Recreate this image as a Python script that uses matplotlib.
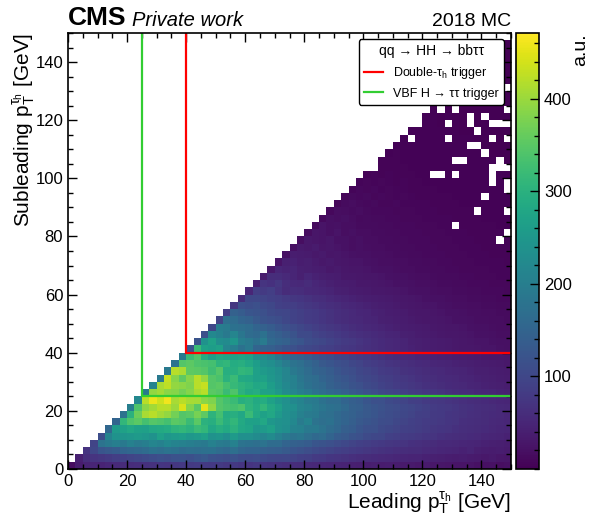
import numpy as np
import matplotlib
matplotlib.use("Agg")
import matplotlib.pyplot as plt
from matplotlib.ticker import MultipleLocator

plt.rcParams["font.family"] = ["Liberation Sans", "DejaVu Sans"]
plt.rcParams["mathtext.fontset"] = "custom"
plt.rcParams["mathtext.rm"] = "Liberation Sans"
plt.rcParams["mathtext.it"] = "Liberation Sans:italic"
plt.rcParams["mathtext.bf"] = "Liberation Sans:bold"

n_bins = 60
pt_max = 150
N = np.nan

# Bin contents by subleading pT row, each row starts on the diagonal bin
rows = [
    [15,35,45,48,45,50,55,58,60,62, 65,68,72,70,75,78,80,82,80,78, 80,75,78,72,70,75,70,68,66,62, 60,58,55,52,50,48,46,45,42,40, 38,40,36,38,35,32,33,30,32,28, 28,26,25,24,25,22,20,22,18,20],
    [42,62,70,75,80,85,90,95,100, 105,110,115,112,118,120,115,125,130,118, 115,112,118,110,108,112,105,100,98,100, 95,90,88,80,78,72,70,68,64,60, 58,56,54,52,50,48,46,46,44,42, 40,38,36,38,34,32,30,32,28,26],
    [70,100,125,130,135,150,155,160, 165,178,170,180,175,165,170,168,172,175, 165,160,170,155,150,150,145,140,138,132, 125,118,112,105,100,95,90,85,82,78, 75,70,68,66,62,60,58,58,54,52, 50,48,46,44,46,40,38,36,38,34],
    [95,180,190,200,190,205,195, 200,215,205,220,210,205,200,195,190,205, 195,190,205,180,175,170,180,165,165,150, 145,140,135,125,120,115,108,102,95,90, 86,82,78,75,72,70,66,64,60,58, 55,54,52,50,48,46,44,42,40,38],
    [110,210,240,245,250,255, 250,240,265,250,255,260,250,255,265,240, 245,230,255,235,235,225,215,225,205,190, 180,185,170,160,165,150,135,130,120,115, 105,100,98,90,85,82,80,76,72,70, 66,62,60,58,56,54,50,48,46,44],
    [155,255,270,280,270, 265,280,285,290,305,310,300,320,310,280, 295,285,300,280,275,250,255,265,240,230, 210,205,190,190,180,165,155,140,135,125, 115,115,105,100,95,90,88,84,80,75, 72,70,66,62,60,58,56,52,50,48],
    [150,310,340,350, 330,345,340,330,350,345,320,350,300,295, 320,295,310,285,270,265,280,250,240,235, 220,195,210,180,170,175,160,150,140,130, 125,118,110,108,100,95,90,86,82,80, 76,72,70,64,62,60,58,55,52,50],
    [180,300,365, 410,420,405,395,370,345,350,375,355,305, 330,290,295,280,320,285,270,280,255,235, 225,205,195,190,175,170,160,150,145,135, 130,125,115,110,105,100,95,88,85,80, 78,72,70,68,64,62,58,56,54,50],
    [200,340, 390,405,420,420,400,445,385,350,452,395, 345,335,330,340,305,290,310,285,265,240, 235,215,205,195,185,175,170,160,145,140, 130,125,118,112,108,102,98,92,88,82, 78,76,72,68,66,62,60,58,54,52],
    [220, 420,455,435,460,410,420,410,408,390,380, 345,330,320,295,300,285,290,270,250,235, 220,210,195,190,175,165,165,150,140,135, 125,115,115,105,100,95,88,85,80,76, 74,70,68,64,60,58,56,52,50,48],
    [190,395,405,390,385,370,385,410,420,350, 345,320,340,300,285,290,270,265,250,225, 215,200,190,175,165,155,150,140,130,125, 115,108,100,95,92,86,80,76,72,70, 68,62,58,56,54,50,48,46,44,42],
    [210,410,425,395,390,380,420,430,345, 350,330,315,305,295,280,285,260,240,220, 205,190,175,165,160,145,135,130,120,115, 105,100,92,88,82,78,74,70,66,64, 60,56,54,52,48,46,44,42,40,38],
    [190,430,385,355,385,420,395,345, 335,300,320,285,280,265,270,250,235,215, 205,185,170,165,150,140,130,125,115,105, 100,95,88,84,78,74,70,66,62,60, 56,54,52,48,46,44,42,40,38,36],
    [190,420,412,355,350,345,325, 345,295,295,310,305,265,255,245,230,215, 190,180,165,150,145,135,125,115,110,100, 95,90,82,78,74,68,66,62,58,56, 54,50,48,46,44,40,40,38,36,34],
    [180,345,352,340,335,330, 305,310,290,295,280,260,240,230,215,195, 180,170,155,145,130,125,115,110,100,95, 85,82,76,70,68,64,60,56,54,50, 48,46,44,42,40,38,36,34,32,30],
    [190,320,342,290,262, 280,275,270,275,265,230,225,210,185,165, 150,145,135,125,115,110,100,95,88,82, 78,72,68,62,58,54,52,48,46,44, 42,40,38,36,34,32,30,28,28,26],
    [125,320,270,260, 270,215,200,175,190,150,145,140,130,120, 115,105,100,95,90,85,80,75,72,68, 64,60,56,52,50,46,44,40,38,36, 34,32,30,28,28,26,24,24,22,20],
    [120,240,270, 230,225,245,200,190,175,195,160,150,145, 130,125,110,105,100,92,85,80,76,70, 66,60,56,52,50,46,42,40,38,36, 34,32,30,28,26,24,24,22,20,20],
    [115,220, 205,190,215,185,165,160,175,150,140,130, 120,105,105,95,90,84,78,72,68,64, 60,56,52,48,46,42,40,36,34,32, 30,28,28,26,24,22,22,20,18,18],
    [100, 200,195,175,170,165,150,145,135,125,115, 108,100,92,86,80,74,70,66,60,56, 52,50,46,44,40,38,36,34,32,30, 28,26,26,24,22,20,20,18,16,16],
    [95,170,165,150,145,130,120,115,110,100, 92,88,82,78,72,68,62,58,54,52, 48,46,42,40,38,36,32,30,28,28, 26,24,22,22,20,18,18,16,16,14],
    [85,145,135,125,120,115,105,100,98, 92,88,82,78,72,68,62,58,54,50, 48,44,42,38,36,34,30,28,28,26, 24,22,22,20,18,18,16,16,14,14],
    [75,115,110,115,105,100,90,85, 85,80,75,70,66,62,58,52,50,46, 44,40,38,36,32,30,28,26,24,24, 22,20,18,18,16,16,14,14,12,12],
    [60,100,100,95,90,85,80, 75,72,68,62,60,55,50,46,44,40, 38,36,34,32,30,28,26,24,22,20, 20,18,16,16,14,14,12,12,10,10],
    [50,85,80,85,70,58, 62,60,55,52,50,46,42,40,36,34, 32,30,30,28,26,24,22,20,20,18, 16,16,14,14,12,12,10,10,10,8],
    [40,70,65,75,60, 55,52,58,50,45,42,38,36,34,30, 30,28,26,24,22,22,20,18,18,16, 14,14,12,12,10,10,10,8,8,8],
    [35,60,60,55, 48,42,50,44,40,38,36,30,30,28, 26,26,24,22,20,20,18,16,16,14, 12,12,12,10,10,8,8,8,6,6],
    [30,50,45, 48,42,40,38,36,30,32,28,26,26, 24,22,20,20,18,16,16,14,14,12, 12,10,10,8,8,8,8,6,6,6],
    [25,42, 44,38,40,34,30,32,28,26,24,24, 22,20,18,18,16,16,14,14,12,12, 10,10,8,8,8,6,6,6,6,4],
    [22, 38,36,34,30,32,26,28,24,22,20, 20,18,18,16,14,14,12,12,10,10, 10,8,8,8,6,6,6,4,4,4],
    [20,32,30,34,26,28,24,22,18,20, 18,16,16,14,14,12,12,10,10,10, 8,8,8,6,6,6,4,4,4,4],
    [18,30,26,24,28,22,22,18,20, 16,16,14,14,12,12,10,10,10,8, 8,8,6,6,6,4,4,4,4,4],
    [16,26,24,20,24,18,20,16, 16,14,14,12,12,10,10,10,8,8, 8,6,6,6,4,4,4,4,4,4],
    [14,24,20,22,18,18,14, 14,14,12,12,10,10,10,8,8,8, 6,6,6,4,4,4,4,4,3,3],
    [12,20,18,20,16,12, 14,12,12,10,10,8,8,8,6,6, 6,6,4,4,4,4,3,3,3,3],
    [10,18,16,14,16, 12,10,10,10,8,8,8,6,6,6, 4,4,4,4,4,3,3,3,3,3],
    [9,14,16,12, 10,12,8,8,10,6,6,6,6,4, 4,4,4,3,3,3,3,3,2,2],
    [8,12,10, 12,8,10,8,6,8,6,4,4,4, 4,4,3,3,3,3,3,2,2,2],
    [7,10, 8,10,6,8,6,6,4,4,4,4, 3,3,3,3,2,2,2,2,2,2],
    [6, 8,6,8,6,4,6,4,4,3,3, 3,3,3,2,2,2,2,2,2,2],
    [5,7,5,6,4,5,4,3,3,3, 3,3,2,2,2,2,2,2,2,2],
    [N,5,5,4,4,3,3,3,3, 2,2,2,2,2,2,2,2,2,1],
    [4,4,4,3,3,3,3,2, 2,2,2,2,2,2,2,2,2,1],
    [3,4,3,3,3,2,2, 2,2,2,2,2,2,2,1,1,1],
    [3,3,3,2,2,2, 2,2,2,2,2,2,1,1,1,1],
    [2,3,2,2,2, 2,2,2,2,2,1,1,1,1,1],
    [2,2,2,2, 2,2,2,1,1,1,1,1,1,1],
    [N,2,2, 1,1,2,1,1,1,1,1,1,1],
    [2,2, 1,2,1,1,1,1,1,1,1,1],
    [2, 1,1,1,1,1,1,1,1,1,1],
    [1,1,2,1,1,1,1,1,1,1],
    [1,1,1,1,1,1,1,1,1],
    [1,1,1,1,1,1,1,1],
    [1,1,1,1,1,1,1],
    [1,1,1,1,1,1],
    [1,1,1,1,1],
    [1,1,1,1],
    [1,1,1],
    [1,1],
    [N],
]

# Bins with no events, (x bin, y bin)
empty_bins = [(59,52), (50,49), (52,49), (59,49), (54,48), (56,48), (51,47), (54,47), (57,47), (58,47), (59,47),
              (55,46), (46,45), (51,45), (57,45), (59,45), (54,44), (55,44), (56,43), (52,42), (53,42), (58,42),
              (57,41), (58,41), (59,41), (49,40), (50,40), (52,40), (57,40), (57,39), (59,39), (59,38), (56,37),
              (55,35), (59,35), (52,33), (59,32), (58,31)]

# Trigger thresholds in GeV
double_tau_cut = 40
vbf_cut = 25

hist = np.full((n_bins, n_bins), np.nan)
for j, row in enumerate(rows):
    hist[j, j:j + len(row)] = row
for i, j in empty_bins:
    hist[j, i] = np.nan

edges = np.linspace(0, pt_max, n_bins + 1)

fig = plt.figure(figsize=(5.9, 5.17), dpi=100)
ax = fig.add_axes([68 / 590, 1 - 469 / 517, 443 / 590, 436 / 517])
cax = fig.add_axes([516 / 590, 1 - 469 / 517, 23 / 590, 436 / 517])

mesh = ax.pcolormesh(edges, edges, hist, cmap="viridis", vmin=0, vmax=471, rasterized=True)

# Trigger regions
red_line, = ax.plot([double_tau_cut, double_tau_cut, pt_max], [pt_max, double_tau_cut, double_tau_cut],
                    color="red", lw=1.6, solid_joinstyle="miter")
green_line, = ax.plot([vbf_cut, vbf_cut, pt_max], [pt_max, vbf_cut, vbf_cut],
                      color="limegreen", lw=1.6, solid_joinstyle="miter")

ax.set_xlim(0, pt_max)
ax.set_ylim(0, pt_max)
ax.xaxis.set_major_locator(MultipleLocator(20))
ax.yaxis.set_major_locator(MultipleLocator(20))
ax.xaxis.set_minor_locator(MultipleLocator(5))
ax.yaxis.set_minor_locator(MultipleLocator(5))
ax.tick_params(which="both", direction="in", top=True, right=True, width=1.0, labelsize=12)
ax.tick_params(which="major", length=6.5)
ax.tick_params(which="minor", length=3.5)
for spine in ax.spines.values():
    spine.set_linewidth(1.2)

ax.set_xlabel(r"Leading $\mathregular{p_T^{\tau_h}}$ [GeV]", fontsize=15, loc="right", labelpad=1)
ax.set_ylabel(r"Subleading $\mathregular{p_T^{\tau_h}}$ [GeV]", fontsize=15, loc="top", labelpad=-2)

ax.text(0, 1.006, "CMS", transform=ax.transAxes, fontsize=19, fontweight="bold", va="bottom", ha="left")
ax.text(0.1445, 1.006, "Private work", transform=ax.transAxes, fontsize=14.5, style="italic", va="bottom", ha="left")
ax.text(1, 1.006, "2018 MC", transform=ax.transAxes, fontsize=14, va="bottom", ha="right")

leg = ax.legend([red_line, green_line],
                [r"Double-$\mathregular{\tau_h}$ trigger", "VBF H → ττ trigger"],
                title="qq → HH → bbττ", title_fontsize=10, fontsize=9,
                loc="upper right", bbox_to_anchor=(0.984, 0.986), borderaxespad=0,
                frameon=True, framealpha=1, edgecolor="black", fancybox=True, handlelength=1.55,
                labelspacing=0.55)
leg.get_frame().set_linewidth(1.0)

cbar = fig.colorbar(mesh, cax=cax)
cbar.set_ticks([100, 200, 300, 400])
cbar.ax.yaxis.set_minor_locator(MultipleLocator(20))
cbar.ax.tick_params(which="both", direction="in", width=1.0, labelsize=12)
cbar.ax.tick_params(which="major", length=6.5)
cbar.ax.tick_params(which="minor", length=3.5)
cbar.outline.set_linewidth(1.2)
cbar.set_label("a.u.", fontsize=14, loc="top", labelpad=0)

fig.savefig("out.png", dpi=100)
